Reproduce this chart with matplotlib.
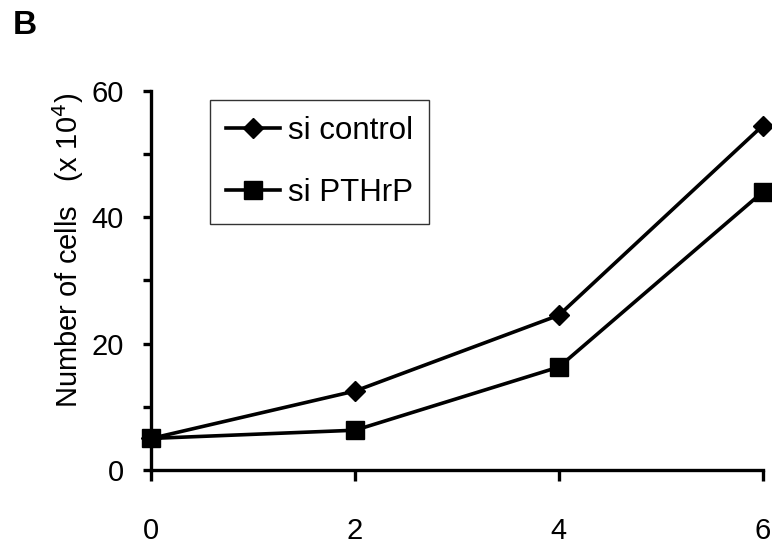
import matplotlib
matplotlib.use("Agg")
import matplotlib.pyplot as plt

plt.rcParams['font.family'] = ['Liberation Sans', 'DejaVu Sans']

days = [0, 2, 4, 6]
si_control = [5.0, 12.5, 24.5, 54.5]
si_pthrp = [5.0, 6.3, 16.3, 44.0]
labels = ['si control', 'si PTHrP']

fig = plt.figure(figsize=(7.72, 5.44), dpi=100)
ax = fig.add_axes([0.196, 0.136, 0.792, 0.697])

ax.plot(days, si_control, '-D', color='black', lw=2.6, ms=10, label=labels[0], clip_on=False, zorder=3)
ax.plot(days, si_pthrp, '-s', color='black', lw=2.6, ms=12.5, label=labels[1], clip_on=False, zorder=3)

ax.set_xlim(0, 6)
ax.set_ylim(0, 60)
ax.set_xticks([0, 2, 4, 6])
ax.set_yticks([0, 20, 40, 60])
ax.set_yticks([10, 30, 50], minor=True)

for s in ['top', 'right']:
    ax.spines[s].set_visible(False)
for s in ['left', 'bottom']:
    ax.spines[s].set_linewidth(2.4)

ax.tick_params(axis='x', direction='out', length=8, width=2.4, labelsize=21, pad=26)
ax.tick_params(axis='y', which='both', direction='out', length=6, width=2.4, labelsize=21, pad=14)

ax.set_ylabel('Number of cells   (x 10$^4$)', fontsize=21)
ax.yaxis.set_label_coords(-0.107, 0.58)

leg = ax.legend(loc='upper left', bbox_to_anchor=(0.096, 0.976), fontsize=22.5, frameon=True,
                fancybox=False, handlelength=1.75, handletextpad=0.25, borderpad=0.5,
                labelspacing=1.05, borderaxespad=0)
leg.get_frame().set_edgecolor('black')
leg.get_frame().set_linewidth(1.0)

fig.text(0.017, 0.954, 'B', fontsize=24, fontweight='bold', ha='left', va='center')

fig.savefig('out.png', dpi=100)
